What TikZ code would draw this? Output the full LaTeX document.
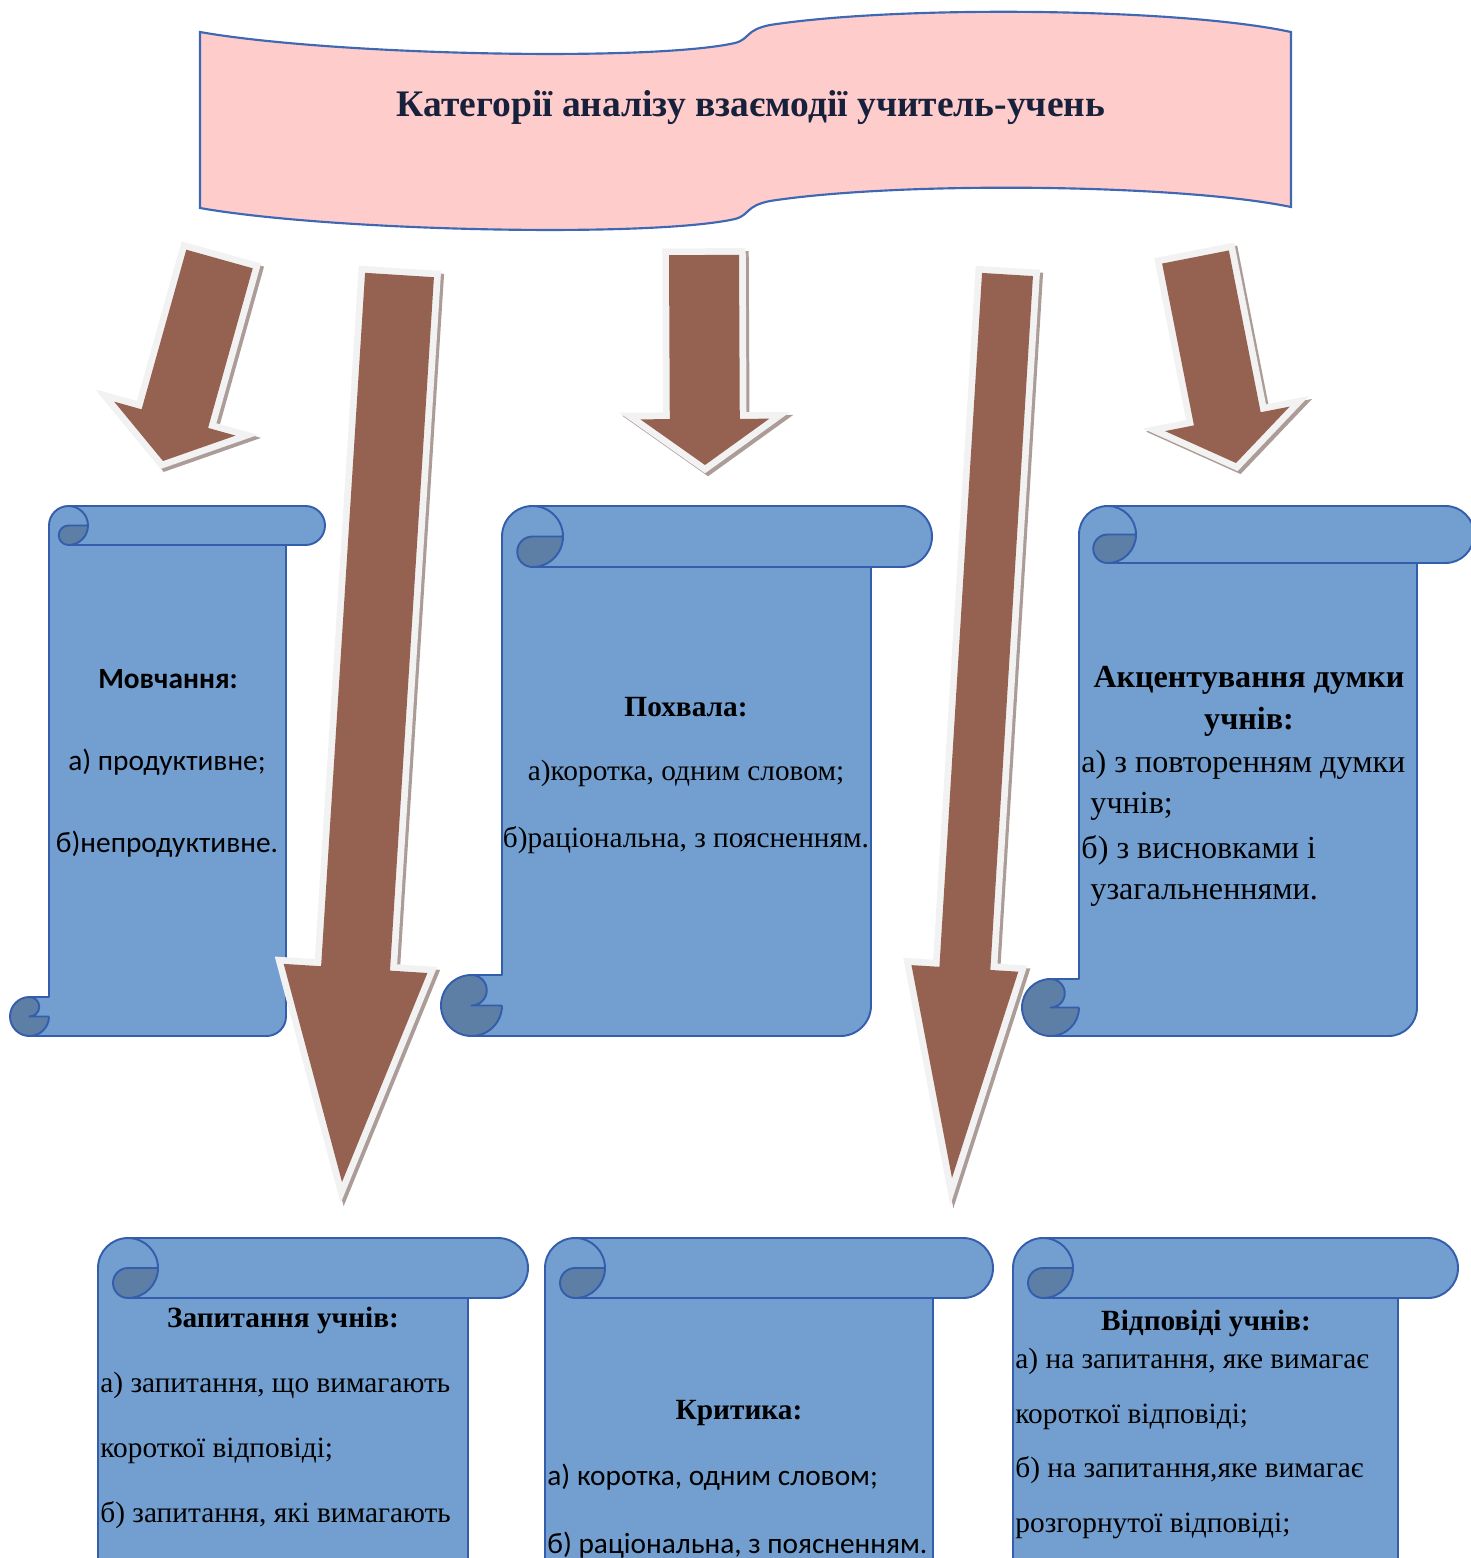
\documentclass[tikz,border=0pt]{standalone}
\usepackage{fontspec}
\setmainfont{Liberation Serif}
\newfontfamily\calibrifont{Carlito}
\usepackage{tikz}

\definecolor{pinkfill}{RGB}{255,204,204}
\definecolor{pinkedge}{RGB}{62,103,180}
\definecolor{scrollblue}{RGB}{114,159,207}
\definecolor{curlblue}{RGB}{93,127,166}
\definecolor{edgeblue}{RGB}{52,94,172}
\definecolor{brownfill}{RGB}{149,98,81}
\definecolor{rimgrey}{RGB}{242,242,242}
\definecolor{shadegrey}{RGB}{172,156,152}
\definecolor{titleink}{RGB}{24,33,60}

% vertical scroll: left, top, width, height, curl size
\newcommand{\vscroll}[5]{%
  \begin{scope}[shift={(#1,#2)}]
    \pgfmathsetmacro\scA{#5}\pgfmathsetmacro\scB{#5/2}\pgfmathsetmacro\scC{#5/4}%
    \pgfmathsetmacro\scX{1.5*#5}\pgfmathsetmacro\scXX{2*#5}%
    \pgfmathsetmacro\scR{#3-#5}\pgfmathsetmacro\scRR{#3-#5/2}%
    \pgfmathsetmacro\scY{#4-#5}\pgfmathsetmacro\scYY{#4-#5/2}%
    \fill[scrollbody] (\scB,#4) arc[start angle=90,delta angle=-90,radius=\scB] -- (\scB,\scYY)
      arc[start angle=90,delta angle=-180,radius=\scC] -- (\scA,\scY) -- (\scA,\scB)
      arc[start angle=180,delta angle=90,radius=\scB] -- (\scRR,0)
      arc[start angle=270,delta angle=180,radius=\scB] -- (\scR,\scA) -- (\scR,\scYY)
      arc[start angle=0,delta angle=90,radius=\scB] -- cycle;
    \fill[scrollcurl] (\scXX,\scB) arc[start angle=0,delta angle=90,radius=\scB]
      arc[start angle=90,delta angle=180,radius=\scC] -- cycle
      (\scA,\scYY) arc[start angle=0,delta angle=270,radius=\scB]
      arc[start angle=270,delta angle=180,radius=\scC] -- cycle;
    \draw[scrolledge] (\scA,\scY) -- (\scA,\scB) arc[start angle=180,delta angle=90,radius=\scB]
      -- (\scRR,0) arc[start angle=270,delta angle=180,radius=\scB] -- (\scR,\scA) -- (\scR,\scYY)
      arc[start angle=0,delta angle=90,radius=\scB] -- (\scB,#4)
      arc[start angle=90,delta angle=180,radius=\scB] -- cycle
      (\scX,0) arc[start angle=270,delta angle=180,radius=\scB]
      arc[start angle=90,delta angle=180,radius=\scC] -- (\scXX,\scB)
      (\scR,\scA) -- (\scX,\scA)
      (\scB,\scY) arc[start angle=270,delta angle=180,radius=\scC] -- (\scA,\scYY)
      (\scB,#4) arc[start angle=90,delta angle=-90,radius=\scB];
  \end{scope}}

% block arrow: tail x, tail y, tip x, tip y, shaft width, head width, head length
\newcommand{\blockarrow}[7]{%
  \pgfmathsetmacro\ardx{#3-#1}\pgfmathsetmacro\ardy{#4-#2}%
  \pgfmathsetmacro\arlen{veclen(\ardx,\ardy)}%
  \pgfmathsetmacro\arux{\ardx/\arlen}\pgfmathsetmacro\aruy{\ardy/\arlen}%
  \pgfmathsetmacro\arbx{#3-(\arux)*#7}\pgfmathsetmacro\arby{#4-(\aruy)*#7}%
  \def\arpath{({#1-(\aruy)*#5/2},{#2+(\arux)*#5/2}) -- ({\arbx-(\aruy)*#5/2},{\arby+(\arux)*#5/2})
    -- ({\arbx-(\aruy)*#6/2},{\arby+(\arux)*#6/2}) -- (#3,#4)
    -- ({\arbx+(\aruy)*#6/2},{\arby-(\arux)*#6/2}) -- ({\arbx+(\aruy)*#5/2},{\arby-(\arux)*#5/2})
    -- ({#1+(\aruy)*#5/2},{#2-(\arux)*#5/2}) -- cycle}%
  \path[arrowshade] \arpath;
  \path[arrowrim] \arpath;
  \path[arrowbody] \arpath;}

\begin{document}
\begin{tikzpicture}[x=0.467pt, y=-0.467pt,
  banner/.style={fill=pinkfill, draw=pinkedge, line width=1pt},
  scrollbody/.style={fill=scrollblue},
  scrollcurl/.style={fill=curlblue},
  scrolledge/.style={draw=edgeblue, line width=0.9pt, line join=round},
  arrowshade/.style={fill=shadegrey, draw=shadegrey, line width=6.3pt, shift={(3,3)}},
  arrowrim/.style={fill=rimgrey, draw=rimgrey, line width=6.3pt},
  arrowbody/.style={fill=brownfill},
  headtext/.style={anchor=base, inner sep=0pt, font=\bfseries\fontsize{13.7}{17}\selectfont},
  midtext/.style={anchor=base, inner sep=0pt, font=\fontsize{13.7}{17}\selectfont},
  linetext/.style={anchor=base west, inner sep=0pt, font=\fontsize{13.7}{17}\selectfont},
  sans/.style={font=\calibrifont\fontsize{13.7}{17}\selectfont},
  large/.style={font=\fontsize{15}{18}\selectfont}]

    \useasboundingbox (0,0) rectangle (1471,1558);
    \clip (0,0) rectangle (1471,1558);

    %Banner
    \draw[banner] (200,32) .. controls (330,55) and (650,62) .. (735,43)
      .. controls (750,39) and (745,30) .. (770,25) .. controls (900,5) and (1180,8) .. (1291,32)
      -- (1291,207) .. controls (1180,184) and (900,181) .. (770,201)
      .. controls (745,206) and (750,215) .. (735,219) .. controls (650,238) and (330,231) .. (200,208) -- cycle;
    \node[anchor=base, inner sep=0pt, text=titleink, font=\bfseries\fontsize{17.5}{21}\selectfont] (title) at (751,116) {Категорії аналізу взаємодії учитель-учень};

    %Scrolls, top row
    \vscroll{10}{506}{315}{530}{39}
    \node[midtext, sans] (silence) at (168,688) {\textbf{Мовчання:}};
    \node[midtext, sans] (silence-a) at (167,770) {а) продуктивне;};
    \node[midtext, sans] (silence-b) at (167,852) {б)непродуктивне.};

    \vscroll{441}{506}{491}{530}{61}
    \node[headtext] (praise) at (686,716) {Похвала:};
    \node[midtext] (praise-a) at (686,780) {а)коротка, одним словом;};
    \node[midtext] (praise-b) at (686,847) {б)раціональна, з поясненням.};

    %Arrows
    \blockarrow{219.5}{259}{163}{461}{69}{126}{44}
    \blockarrow{399.5}{275}{342}{1182}{69}{144}{214}
    \blockarrow{704}{255}{705}{465}{70}{129}{46}
    \blockarrow{1007.5}{274.5}{952}{1178}{51}{107}{210}
    \blockarrow{1195.5}{257}{1236}{463}{68}{127}{45}

    \vscroll{1022}{506}{452}{530}{57}
    \node[headtext, large] (accent) at (1249,687) {\bfseries Акцентування думки};
    \node[headtext, large] (accent-2) at (1249,729) {\bfseries учнів:};
    \node[linetext, large] (accent-a) at (1081,772) {а) з повторенням думки};
    \node[linetext, large] (accent-a2) at (1090,813) {учнів;};
    \node[linetext, large] (accent-b) at (1081,858) {б) з висновками і};
    \node[linetext, large] (accent-b2) at (1090,899) {узагальненнями.};

    %Scrolls, bottom row
    \vscroll{38}{1238}{490}{560}{60}
    \node[headtext] (questions) at (283,1327) {Запитання учнів:};
    \node[linetext] (questions-a) at (100,1392) {а) запитання, що вимагають};
    \node[linetext] (questions-a2) at (100,1457) {короткої відповіді;};
    \node[linetext] (questions-b) at (100,1522) {б) запитання, які вимагають};

    \vscroll{485}{1238}{508}{560}{60}
    \node[headtext] (critique) at (739,1419) {Критика:};
    \node[linetext, sans] (critique-a) at (547,1485) {а) коротка, одним словом;};
    \node[linetext, sans] (critique-b) at (547,1553) {б) раціональна, з поясненням.};

    \vscroll{953}{1238}{505}{560}{60}
    \node[headtext] (answers) at (1206,1330) {Відповіді учнів:};
    \node[linetext] (answers-a) at (1015,1368) {а) на запитання, яке вимагає};
    \node[linetext] (answers-a2) at (1015,1423) {короткої відповіді;};
    \node[linetext] (answers-b) at (1015,1477) {б) на запитання,яке вимагає};
    \node[linetext] (answers-b2) at (1015,1532) {розгорнутої відповіді;};

\end{tikzpicture}
\end{document}
